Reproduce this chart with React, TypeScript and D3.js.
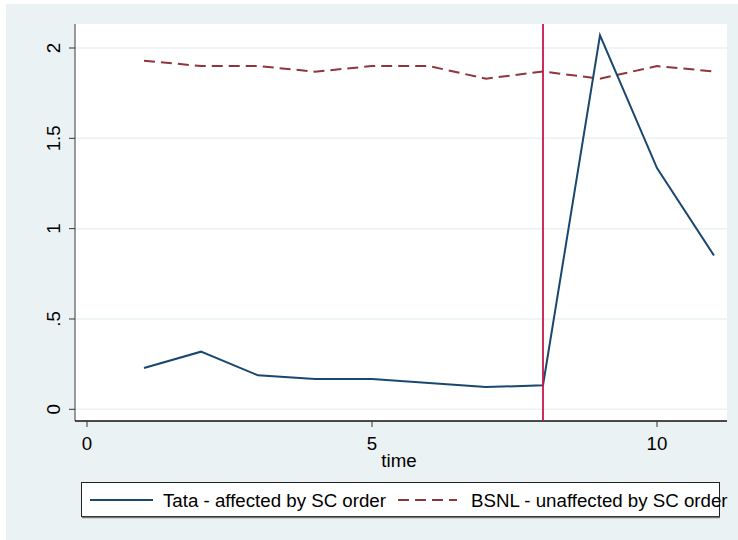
import React from 'react';
import * as d3 from 'd3';

// data
const time = [1, 2, 3, 4, 5, 6, 7, 8, 9, 10, 11];
const tata = [0.229, 0.319, 0.188, 0.168, 0.168, 0.146, 0.123, 0.133, 2.07, 1.335, 0.851];
const bsnl = [1.93, 1.9, 1.9, 1.869, 1.9, 1.9, 1.83, 1.87, 1.83, 1.9, 1.87];
const xTicks = [0, 5, 10];
const yTicks = [0, 0.5, 1, 1.5, 2];
const yTickLabels = ['0', '.5', '1', '1.5', '2'];
const eventTime = 8;
const seriesNames = ['Tata - affected by SC order', 'BSNL - unaffected by SC order'];
const xTitle = 'time';

const W = 738, H = 540;
const plot = { left: 75, right: 727, top: 24, bottom: 421 };
const font = '"Liberation Sans", Arial, sans-serif';
const fs = 18.7;
const bg = '#eaf2f3';
const navy = '#1a476f';
const maroon = '#90353b';
const redLine = '#c8174a';

export default function App() {
  // scales
  const x = d3.scaleLinear().domain([0, 10]).range([87, 657]);
  const y = d3.scaleLinear().domain([0, 2]).range([409.3, 48]);

  const line = d3
    .line<number>()
    .x((d, i) => x(time[i]))
    .y((d) => y(d));

  return (
    <svg width={W} height={H} style={{ position: 'absolute', left: 0, top: 0 }} fontFamily={font}>
      <rect x={0} y={0} width={W} height={H} fill="#fff" />
      <rect x={6} y={4} width={W - 6} height={H - 4} fill={bg} />
      <rect x={plot.left} y={plot.top} width={plot.right - plot.left} height={plot.bottom - plot.top} fill="#fff" />

      {/* grid lines */}
      {yTicks.map((t) => (
        <line key={'g' + t} x1={plot.left} x2={plot.right} y1={y(t)} y2={y(t)} stroke={bg} strokeWidth={1.5} />
      ))}

      {/* y axis */}
      <line x1={plot.left} x2={plot.left} y1={plot.top} y2={plot.bottom} stroke="#666" strokeWidth={1.3} />
      {yTicks.map((t, i) => (
        <g key={'y' + t}>
          <line x1={plot.left - 6} x2={plot.left} y1={y(t)} y2={y(t)} stroke="#333" />
          <text
            transform={`translate(${60},${y(t)}) rotate(-90)`}
            textAnchor="middle"
            fontSize={fs}
            fill="#000"
          >
            {yTickLabels[i]}
          </text>
        </g>
      ))}

      {/* x axis */}
      <line x1={plot.left} x2={plot.right} y1={plot.bottom} y2={plot.bottom} stroke="#111" strokeWidth={1.3} />
      {xTicks.map((t) => (
        <g key={'x' + t}>
          <line x1={x(t)} x2={x(t)} y1={plot.bottom} y2={plot.bottom + 6} stroke="#333" />
          <text x={x(t)} y={450} textAnchor="middle" fontSize={fs} fill="#000">
            {t}
          </text>
        </g>
      ))}
      <text x={(plot.left + plot.right) / 2 - 2} y={467} textAnchor="middle" fontSize={fs} fill="#000">
        {xTitle}
      </text>

      {/* series */}
      <path d={line(bsnl) || ''} fill="none" stroke={maroon} strokeWidth={2} strokeDasharray="11,6" />
      <path d={line(tata) || ''} fill="none" stroke={navy} strokeWidth={2} />

      {/* event line */}
      <line x1={x(eventTime)} x2={x(eventTime)} y1={plot.top} y2={plot.bottom} stroke={redLine} strokeWidth={1.8} />

      {/* legend */}
      <rect x={81.5} y={482.5} width={638} height={34} fill="#fff" stroke="#222" strokeWidth={1} />
      <line x1={82} x2={720} y1={517.5} y2={517.5} stroke="#777" strokeWidth={1.5} />
      <line x1={90} x2={153} y1={500} y2={500} stroke={navy} strokeWidth={2} />
      <text x={163} y={507} fontSize={fs} fill="#000">
        {seriesNames[0]}
      </text>
      <line x1={398} x2={457} y1={500} y2={500} stroke={maroon} strokeWidth={2} strokeDasharray="11,6" />
      <text x={471} y={507} fontSize={fs} fill="#000">
        {seriesNames[1]}
      </text>
    </svg>
  );
}
